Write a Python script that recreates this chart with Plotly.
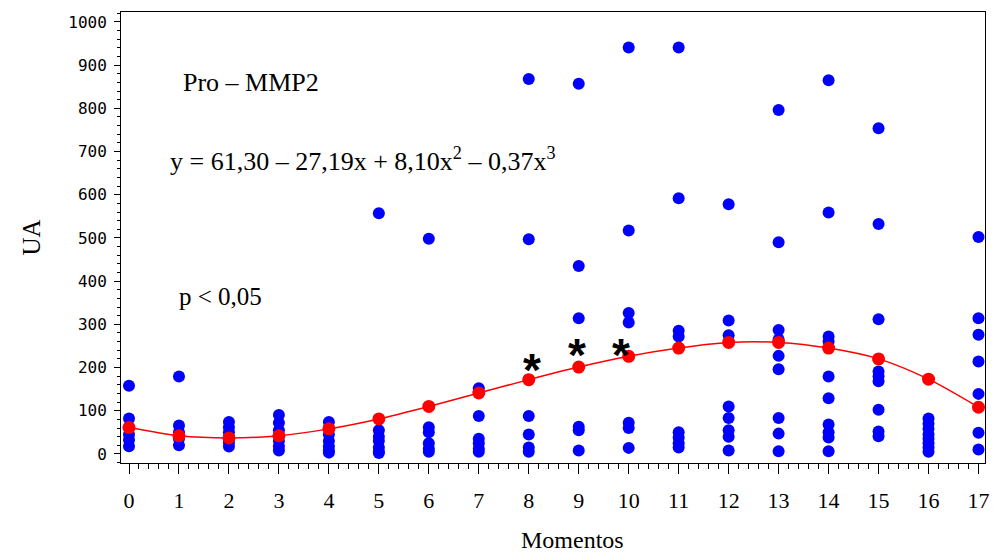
import plotly.graph_objects as go

# Observed values (UA) for each moment
moments = list(range(18))
observed = [
    [158, 82, 62, 45, 32, 18],
    [179, 66, 50, 35, 20],
    [74, 62, 50, 38, 27, 17],
    [90, 72, 55, 30, 18, 8],
    [74, 60, 45, 30, 18, 8, 3],
    [557, 55, 40, 30, 15, 5, 2],
    [498, 62, 50, 25, 12, 5],
    [152, 88, 35, 25, 12, 5],
    [868, 497, 88, 45, 15, 5],
    [857, 435, 314, 63, 55, 8],
    [941, 517, 326, 304, 72, 60, 14],
    [941, 592, 285, 272, 50, 38, 25, 15],
    [578, 309, 275, 110, 83, 55, 40, 8],
    [796, 490, 287, 265, 227, 196, 83, 47, 6],
    [865, 559, 272, 260, 179, 129, 68, 50, 38, 6],
    [754, 532, 312, 191, 180, 168, 102, 52, 41],
    [82, 70, 58, 45, 35, 25, 15, 5],
    [502, 314, 276, 214, 139, 49, 10],
]

# Fitted cubic trend values per moment
fitted = [61, 42, 37, 42, 58, 81, 110, 141, 172, 201, 226, 245, 258, 258, 245, 220, 173, 108]

# Significance markers: position of each asterisk
star_x = [8.07, 8.97, 9.85]
star_y = [218, 253, 253]

x_tick_labels = [str(m) for m in moments]
y_tick_vals = list(range(0, 1001, 100))

scatter_x = [m for m, vals in zip(moments, observed) for _ in vals]
scatter_y = [v for vals in observed for v in vals]

fig = go.Figure()
fig.add_trace(go.Scatter(
    x=scatter_x, y=scatter_y, mode="markers",
    marker=dict(color="#0000FF", size=12, line=dict(width=0)),
    showlegend=False, hoverinfo="x+y",
))
fig.add_trace(go.Scatter(
    x=moments, y=fitted, mode="lines+markers",
    line=dict(color="#FF0000", width=1.5, shape="spline", smoothing=0.8),
    marker=dict(color="#FF0000", size=13, line=dict(width=0)),
    showlegend=False,
))

serif = "Liberation Serif, Times New Roman, serif"

for sx, sy in zip(star_x, star_y):
    fig.add_annotation(
        x=sx, y=sy, xref="x", yref="y", text="<b>*</b>",
        showarrow=False, yanchor="middle", yshift=-10,
        font=dict(family="Liberation Sans, Arial", size=46, color="black"),
    )

fig.add_annotation(x=0.07, y=0.844, xref="paper", yref="paper", xanchor="left", yanchor="middle",
                   text="Pro – MMP2", showarrow=False,
                   font=dict(family=serif, size=26, color="black"))
fig.add_annotation(x=0.054, y=0.672, xref="paper", yref="paper", xanchor="left", yanchor="middle",
                   text="y = 61,30 – 27,19x + 8,10x<sup>2</sup> – 0,37x<sup>3</sup>", showarrow=False,
                   font=dict(family=serif, size=26, color="black"))
fig.add_annotation(x=0.065, y=0.369, xref="paper", yref="paper", xanchor="left", yanchor="middle",
                   text="p < 0,05", showarrow=False,
                   font=dict(family=serif, size=25, color="black"))

# x-axis title, placed slightly right of the axis centre, resting on the bottom edge
fig.add_annotation(x=0.522, y=-0.204, xref="paper", yref="paper", xanchor="center", yanchor="bottom",
                   text="Momentos", showarrow=False,
                   font=dict(family=serif, size=24, color="black"))

fig.update_layout(
    width=993, height=556,
    margin=dict(l=121, r=4, t=12, b=93),
    paper_bgcolor="white", plot_bgcolor="white",
    showlegend=False,
)

fig.update_xaxes(
    range=[-0.16, 17.13],
    tickmode="array", tickvals=moments, ticktext=x_tick_labels,
    ticks="outside", ticklen=10, tickwidth=1, tickcolor="black",
    minor=dict(dtick=0.2, tick0=0, ticks="outside", ticklen=5, tickwidth=1, tickcolor="black", showgrid=False),
    showgrid=False, zeroline=False,
    showline=True, linecolor="black", linewidth=1, mirror=True,
    tickfont=dict(family=serif, size=22, color="black"),
    ticklabelstandoff=8, ticklabeloverflow="allow",
)
fig.update_yaxes(
    range=[-21, 1023],
    tickmode="array", tickvals=y_tick_vals,
    ticks="outside", ticklen=6, tickwidth=1, tickcolor="black",
    minor=dict(dtick=20, tick0=0, ticks="outside", ticklen=3, tickwidth=1, tickcolor="black", showgrid=False),
    showgrid=False, zeroline=False,
    showline=True, linecolor="black", linewidth=1, mirror=True,
    tickfont=dict(family="DejaVu Sans Mono, monospace", size=16, color="black"),
    ticklabelstandoff=4,
    title=dict(text="UA", font=dict(family=serif, size=25, color="black"), standoff=20),
)

fig.write_html("out.html")
